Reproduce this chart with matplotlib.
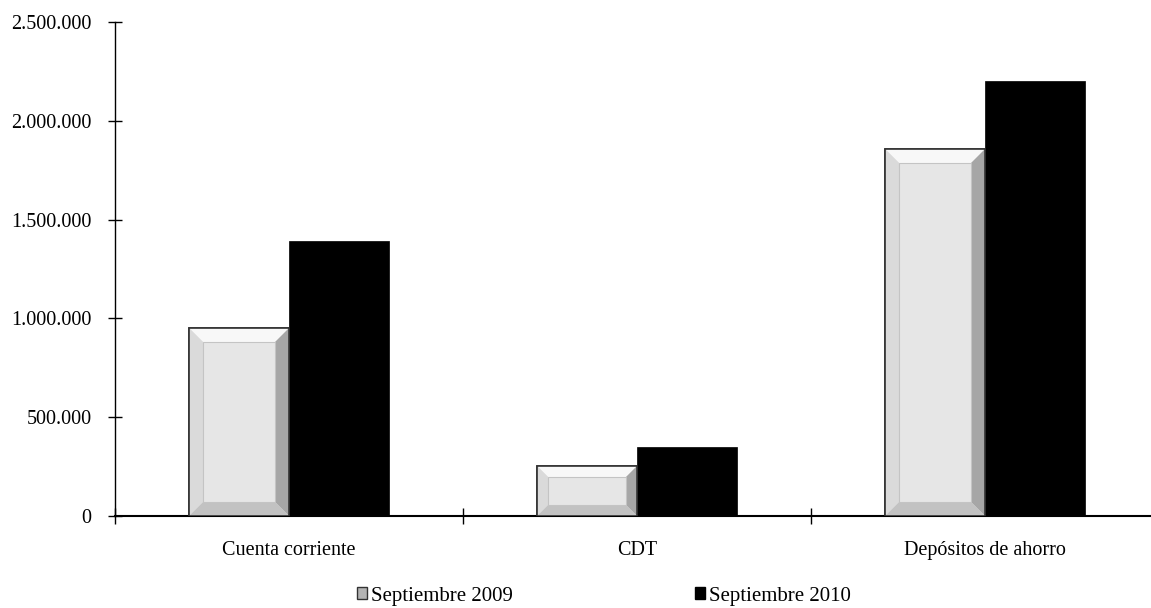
import matplotlib
matplotlib.use('Agg')
import matplotlib.pyplot as plt
import numpy as np
from matplotlib.patches import Polygon, Rectangle
from matplotlib.ticker import FuncFormatter, MultipleLocator

plt.rcParams['font.family'] = ['Liberation Serif', 'DejaVu Serif']

categories = ['Cuenta corriente', 'CDT', 'Depósitos de ahorro']
sep_2009 = [951000, 253000, 1857000]
sep_2010 = [1391000, 349000, 2201000]
series_names = ['Septiembre 2009', 'Septiembre 2010']

W, H = 1151, 608
fig = plt.figure(figsize=(W / 100, H / 100), dpi=100)
ax = fig.add_axes([115 / W, 92 / H, 1044 / W, 494 / H])

x = np.arange(len(categories))
bw = 0.287
b1 = ax.bar(x - bw / 2, sep_2009, bw, color='#e6e6e6', edgecolor='#333333',
            linewidth=1.2, label=series_names[0], zorder=2)
b2 = ax.bar(x + bw / 2, sep_2010, bw, color='black', edgecolor='black',
            linewidth=0.5, label=series_names[1], zorder=2)

ax.set_xlim(-0.5, len(categories) - 0.5)
ax.set_ylim(0, 2500000)

# bevel faces on the 2009 bars
fig.canvas.draw()
inv = ax.transData.inverted()
for rect in b1:
    x0, y0 = rect.get_x(), rect.get_y()
    x1, y1 = x0 + rect.get_width(), y0 + rect.get_height()
    (px0, py0) = ax.transData.transform((x0, y0))
    (px1, py1) = ax.transData.transform((x1, y1))
    d = min(14, (py1 - py0) * 0.22)
    o = [inv.transform(p) for p in [(px0, py0), (px1, py0), (px1, py1), (px0, py1)]]
    i = [inv.transform(p) for p in [(px0 + d, py0 + d), (px1 - d, py0 + d),
                                    (px1 - d, py1 - d), (px0 + d, py1 - d)]]
    faces = [
        ([o[3], o[2], i[2], i[3]], '#f8f8f8'),  # top
        ([o[0], o[3], i[3], i[0]], '#dadada'),  # left
        ([o[1], o[2], i[2], i[1]], '#a6a6a6'),  # right
        ([o[0], o[1], i[1], i[0]], '#c2c2c2'),  # bottom
    ]
    for poly, c in faces:
        ax.add_patch(Polygon(poly, closed=True, facecolor=c, edgecolor='none', zorder=3))
    ax.add_patch(Rectangle(tuple(i[0]), i[1][0] - i[0][0], i[3][1] - i[0][1],
                           facecolor='#e6e6e6', edgecolor='#c4c4c4', linewidth=0.8, zorder=3))
    ax.add_patch(Rectangle((x0, y0), x1 - x0, y1 - y0, facecolor='none',
                           edgecolor='#333333', linewidth=1.2, zorder=4))

for s in ['top', 'right']:
    ax.spines[s].set_visible(False)
ax.spines['left'].set_linewidth(1.0)
ax.spines['bottom'].set_linewidth(1.5)

ax.yaxis.set_major_locator(MultipleLocator(500000))
ax.yaxis.set_major_formatter(FuncFormatter(lambda v, p: f'{int(v):,}'.replace(',', '.')))
ax.tick_params(axis='y', direction='inout', length=10, width=1, labelsize=14.5, pad=12)

ax.set_xticks(x)
ax.set_xticklabels(categories, fontsize=14.5)
ax.tick_params(axis='x', length=0, pad=18)
ax.set_xticks(np.arange(len(categories) + 1) - 0.5, minor=True)
ax.tick_params(axis='x', which='minor', direction='inout', length=12, width=1)

h1 = Rectangle((0, 0), 1, 1, facecolor='#b4b4b4', edgecolor='#333333', linewidth=1)
h2 = Rectangle((0, 0), 1, 1, facecolor='black', edgecolor='black')
fig.legend(handles=[h1, h2], labels=series_names, loc='center',
           bbox_to_anchor=(604 / W, 1 - 596 / H), ncol=2, frameon=False,
           fontsize=15, handlelength=0.5, handleheight=0.5, handletextpad=0.2,
           columnspacing=8.7, borderpad=0)

fig.savefig('out.png', dpi=100)
